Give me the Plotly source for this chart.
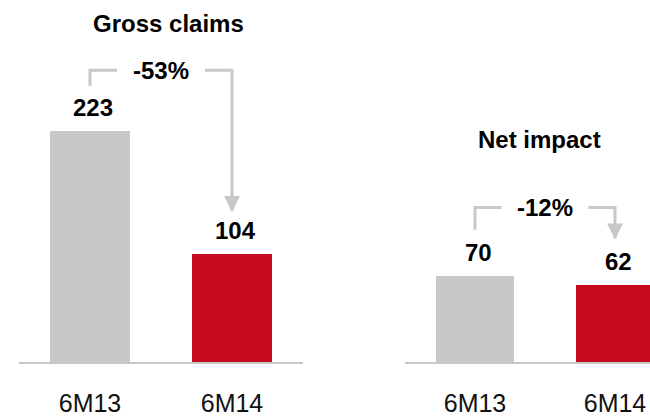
import plotly.graph_objects as go

# data
periods = ["6M13", "6M14"]
gross_claims = [223, 104]
net_impact = [70, 62]
gross_change = "-53%"
net_change = "-12%"
bar_colors = ["#c8c8c8", "#c80a1e"]

FONT = "Liberation Sans, Arial, sans-serif"
GRAY = "#c8c8c8"
W, H = 650, 418
BASE = 362  # baseline, px from top

# y ranges chosen so both panels share one baseline but keep their own scales
LEFT_YMAX = 350
RIGHT_YMAX = 293

fig = go.Figure()

panels = [
    # values, change, xaxis, yaxis, bracket top, left leg bottom, arrow tip
    (gross_claims, gross_change, "x", "y", 282, 267, 146),
    (net_impact, net_change, "x2", "y2", 125, 107, 100),
]

for vals, change, xa, ya, ytop, yleg, ytip in panels:
    fig.add_trace(go.Bar(
        x=[0, 1], y=vals, width=0.56,
        marker=dict(color=bar_colors, line=dict(width=0)),
        xaxis=xa, yaxis=ya, hoverinfo="skip", showlegend=False,
    ))
    for i, v in enumerate(vals):
        fig.add_annotation(
            x=i, y=v, xref=xa, yref=ya, text=f"<b>{v}</b>", showarrow=False,
            yanchor="bottom", yshift=8, xshift=3,
            font=dict(family=FONT, size=24, color="#000000"),
        )
    # bracket with gap for the percent label
    line = dict(color=GRAY, width=3)
    fig.add_shape(type="path", xref=xa, yref=ya, line=line,
                  path=f"M 0,{yleg} L 0,{ytop} L 0.19,{ytop}")
    fig.add_shape(type="path", xref=xa, yref=ya, line=line,
                  path=f"M 0.81,{ytop} L 1,{ytop} L 1,{ytip}")
    fig.add_shape(type="path", xref=xa, yref=ya, xsizemode="pixel", ysizemode="pixel",
                  xanchor=1, yanchor=ytip, line=dict(width=0), fillcolor=GRAY,
                  path="M -8,15 L 8,15 L 0,-1 Z")
    fig.add_annotation(
        x=0.5, y=ytop, xref=xa, yref=ya, text=f"<b>{change}</b>", showarrow=False,
        font=dict(family=FONT, size=24, color="#000000"),
    )

fig.add_annotation(x=168 / W, y=1 - 23 / H, xref="paper", yref="paper",
                   xanchor="center", yanchor="middle",
                   text="<b>Gross claims</b>", showarrow=False,
                   font=dict(family=FONT, size=24, color="#000000"))
fig.add_annotation(x=539 / W, y=1 - 139 / H, xref="paper", yref="paper",
                   xanchor="center", yanchor="middle",
                   text="<b>Net impact</b>", showarrow=False,
                   font=dict(family=FONT, size=24, color="#000000"))

xaxis_common = dict(
    tickmode="array", tickvals=[0, 1], ticktext=periods,
    showgrid=False, zeroline=False, showline=True, linecolor=GRAY, linewidth=2,
    ticks="", ticklabelstandoff=18, automargin=False,
    tickfont=dict(family=FONT, size=25, color="#111111"),
    fixedrange=True,
)
yaxis_common = dict(visible=False, showgrid=False, zeroline=False,
                    domain=[(H - BASE) / H, 1], fixedrange=True)

fig.update_layout(
    width=W, height=H,
    margin=dict(l=0, r=0, t=0, b=0),
    paper_bgcolor="white", plot_bgcolor="white",
    xaxis=dict(domain=[19 / W, 303 / W], range=[-0.5, 1.5], anchor="y", **xaxis_common),
    xaxis2=dict(domain=[405 / W, 1], range=[-0.5, 1.25], anchor="y2", **xaxis_common),
    yaxis=dict(range=[0, LEFT_YMAX], anchor="x", **yaxis_common),
    yaxis2=dict(range=[0, RIGHT_YMAX], anchor="x2", **yaxis_common),
    bargap=0,
)

# drop the default page margin so the figure fills the window exactly
fig.write_html("out.html", config={"displayModeBar": False},
               post_script="document.body.style.margin='0';")
